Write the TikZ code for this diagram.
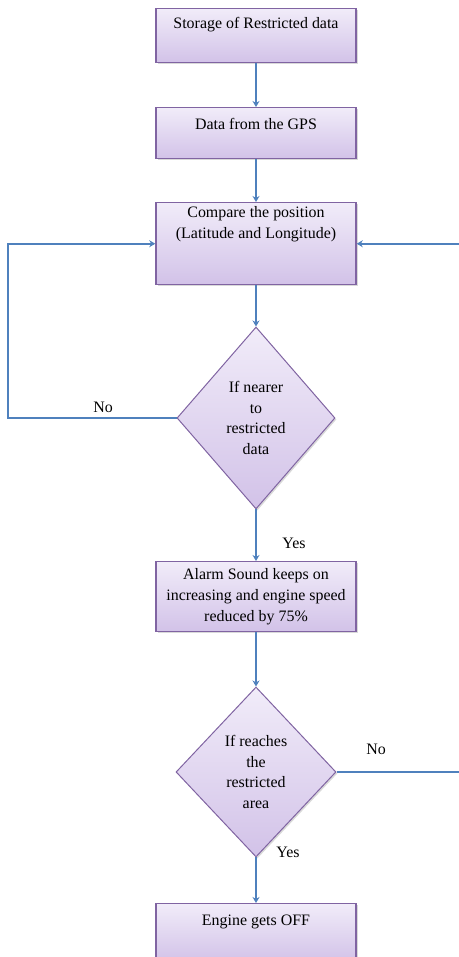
\documentclass[tikz,border=0pt]{standalone}
\usepackage{fontspec}
\setmainfont{Liberation Serif}
\usetikzlibrary{arrows.meta,shapes.geometric,shadows}
\definecolor{flowline}{RGB}{79,129,189}
\definecolor{boxedge}{RGB}{128,100,162}
\definecolor{boxtop}{RGB}{241,236,249}
\definecolor{boxbot}{RGB}{210,194,232}
\begin{document}
\begin{tikzpicture}[font=\fontsize{16}{21}\selectfont,
	proc/.style={draw=boxedge,line width=1.5bp,top color=boxtop,bottom color=boxbot,minimum width=200bp,inner ysep=4bp,align=center,anchor=north,drop shadow={shadow xshift=1.5bp,shadow yshift=-1.5bp,opacity=0.3}},
	test/.style={draw=boxedge,line width=1bp,diamond,top color=boxtop,bottom color=boxbot,align=center,inner sep=0pt,drop shadow={shadow xshift=1.5bp,shadow yshift=-1.5bp,opacity=0.3}},
	flow/.style={draw=flowline,line width=1.6bp,-{Stealth[length=6bp,width=7bp]}}]
\useasboundingbox (0,0) rectangle (459bp,957bp);
\clip (0,0) rectangle (459bp,957bp);
  \node (storage) at (256bp,949bp) [proc,text height=16bp,text depth=30bp] {Storage of Restricted data};
  \node (gps) at (256bp,850bp) [proc,text height=18bp,text depth=25bp] {Data from the GPS};
  \node (compare) at (256bp,755bp) [proc,text depth=42bp] {Compare the position\\(Latitude and Longitude)};
  \node (nearer) at (256bp,539bp) [test,minimum width=158bp,minimum height=182bp] {If nearer\\to\\restricted\\data};
  \node (alarm) at (256bp,396bp) [proc,minimum height=70bp] {Alarm Sound keeps on\\increasing and engine speed\\reduced by 75\%};
  \node (reaches) at (256bp,185bp) [test,minimum width=160bp,minimum height=170bp] {If reaches\\the\\restricted\\area};
  \node (off) at (256bp,54bp) [proc,text height=18bp,text depth=32bp] {Engine gets OFF};
  \coordinate (lftline) at (8bp,0bp);
  \coordinate (rgtline) at (460bp,0bp);
  \draw [flow] (storage.south) -- (gps.north);
  \draw [flow] (gps.south) -- (compare.north);
  \draw [flow] (compare.south) -- (nearer.north);
  \draw [flow] (nearer.south) -- (alarm.north);
  \draw [flow] (alarm.south) -- (reaches.north);
  \draw [flow] (reaches.south) -- (off.north);
  \draw [flow] (nearer.west) -- (nearer.west -| lftline) |- (compare.west);
  \draw [flow] (reaches.east) -- (reaches.east -| rgtline) |- (compare.east);
  \node (nonear) at (103bp,550bp) {No};
  \node (yesnear) at (294bp,414bp) {Yes};
  \node (noreach) at (376bp,208bp) {No};
  \node (yesreach) at (288bp,105bp) {Yes};
\end{tikzpicture}
\end{document}
